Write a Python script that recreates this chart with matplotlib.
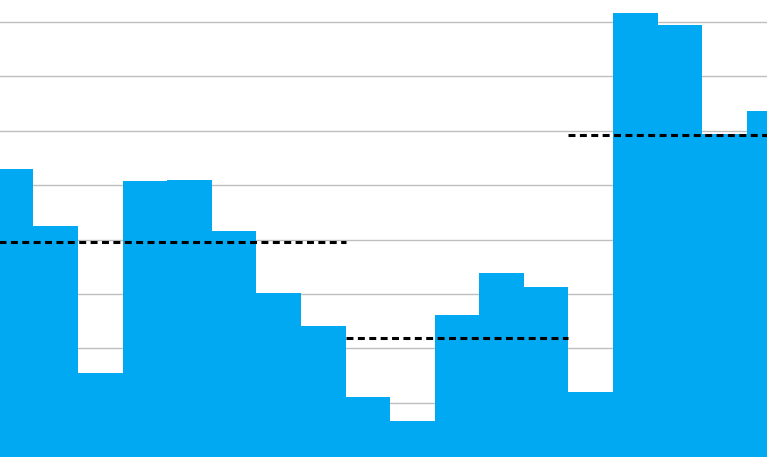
import matplotlib
matplotlib.use("Agg")
import matplotlib.pyplot as plt
import numpy as np

# Bar values (gridline step = 10 units)
values = [52.9, 42.4, 15.4, 50.8, 51.0, 41.5, 30.2, 24.1, 11.1, 6.7,
          26.1, 33.9, 31.2, 12.0, 81.6, 79.5, 59.4, 63.7]
# Dashed segment averages: (start bar index, end bar index, value)
seg_start = [-1, 8, 13]
seg_end = [7, 12, 17]
seg_value = [39.5, 21.8, 59.3]

plt.rcParams['lines.scale_dashes'] = False
fig = plt.figure(figsize=(7.67, 4.57), dpi=100)
ax = fig.add_axes([0, 0, 1, 1])

x = np.arange(len(values))
ax.bar(x, values, width=1.0, color='#00A9F1', zorder=2, linewidth=0)

for s, e, v in zip(seg_start, seg_end, seg_value):
    ax.plot([s - 0.5, e + 0.5], [v, v], color='black', linewidth=2.2,
            dashes=(5.0, 3.2), zorder=3)

ax.set_xlim(-0.247, 16.951)
ax.set_ylim(0.66, 84.05)
ax.set_yticks(np.arange(0, 90, 10))
ax.yaxis.grid(True, color='#BFBFBF', linewidth=1.0, zorder=0)
ax.set_axisbelow(True)
ax.tick_params(left=False, bottom=False, labelleft=False, labelbottom=False)
for sp in ax.spines.values():
    sp.set_visible(False)

fig.savefig("out.png", dpi=100)
